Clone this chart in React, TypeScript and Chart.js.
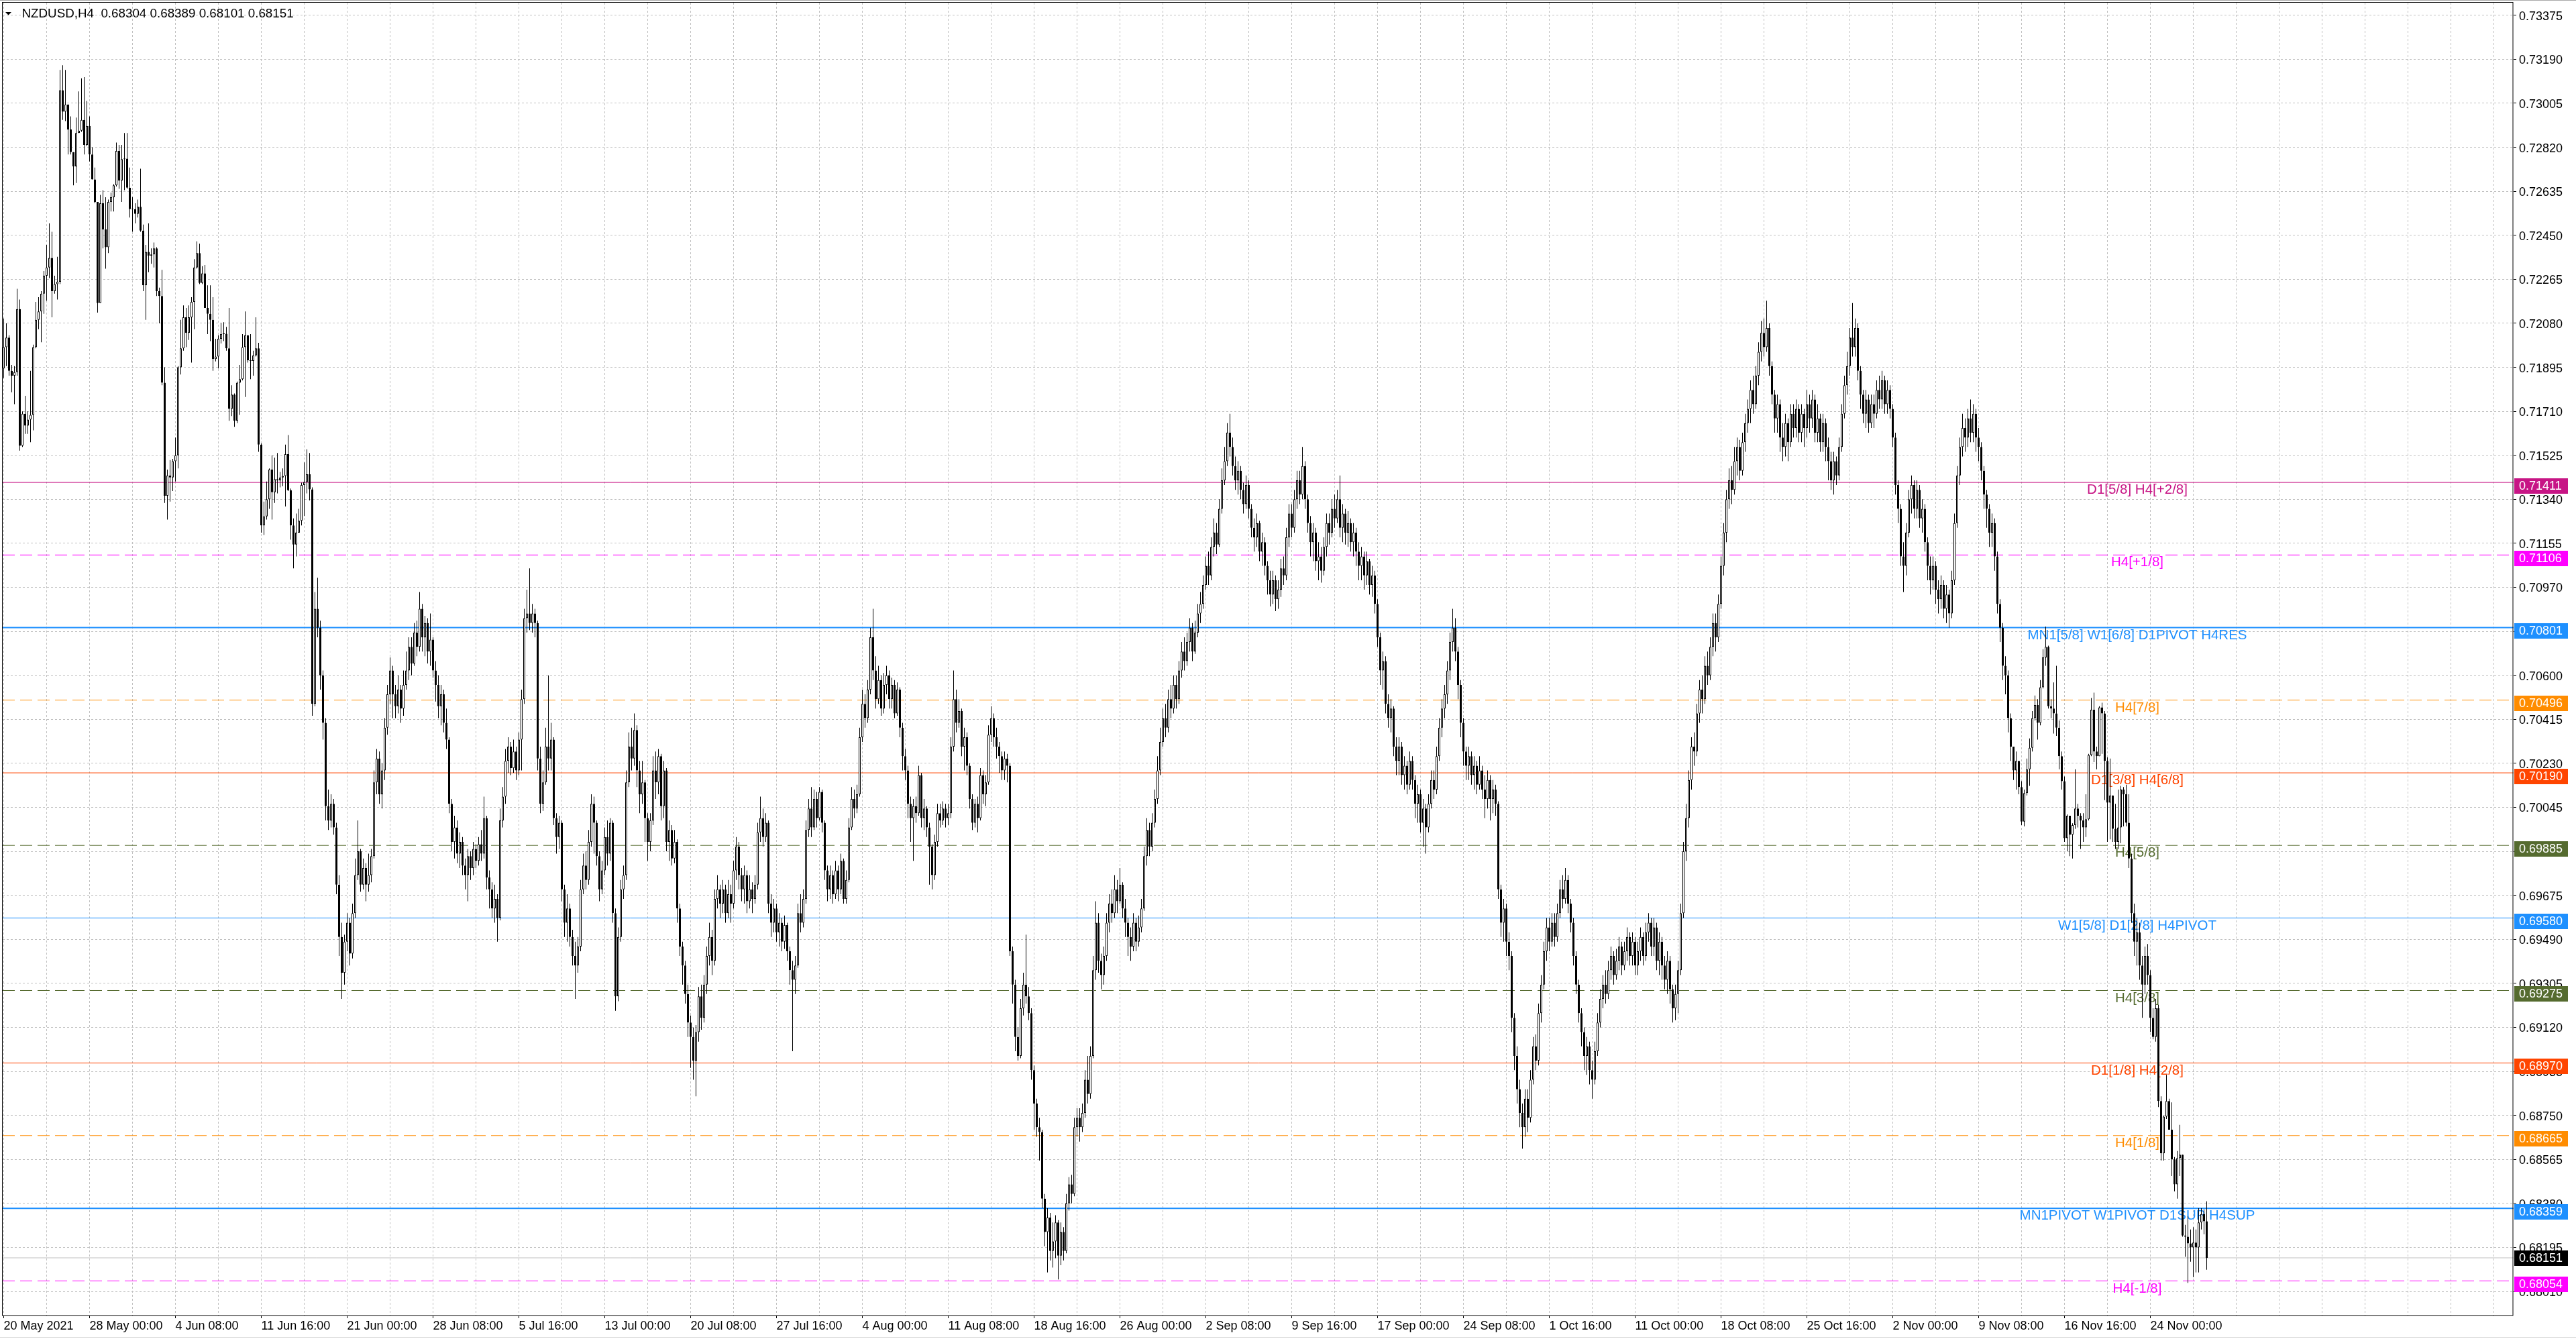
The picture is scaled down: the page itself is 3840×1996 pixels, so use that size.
import { useEffect, useRef } from 'react';
import { Chart, registerables } from 'chart.js';

Chart.register(...registerables);

// ---- DATA (prices as points above 0.68000, 1 point = 0.00001) ----
const BASE = 0.68;
const FIRST_OPEN = 3890;
const CLOSE = [
3980,4020,3880,3860,3875,4140,3565,3700,3650,3675,
3695,3980,4095,4130,4205,4280,4315,4355,4215,4245,
4255,5060,4970,5000,4895,4800,4740,4880,4890,4935,
4830,4910,4790,4685,4590,4165,4585,4475,4400,4590,
4610,4660,4805,4680,4770,4772,4650,4560,4560,4540,
4570,4470,4240,4380,4365,4370,4395,4215,4195,3830,
3355,3440,3432,3500,3525,3895,3975,4105,4040,4105,
4170,4315,4375,4250,4290,4145,4120,4095,3930,3940,
4015,4035,4036,3975,3720,3780,3670,3830,3845,3980,
4030,3925,3922,3945,3975,3570,3230,3268,3340,3465,
3370,3425,3420,3432,3438,3530,3378,3230,3150,3200,
3250,3400,3413,3445,3382,2480,2880,2800,2600,2400,
2050,1990,2060,1960,1720,1500,1350,1480,1560,1430,
1600,1760,1860,1720,1790,1720,1760,1840,2150,2250,
2100,2200,2380,2520,2620,2520,2470,2540,2460,2560,
2620,2720,2650,2780,2720,2880,2760,2820,2700,2750,
2620,2560,2470,2520,2400,2330,2060,1900,1960,1850,
1900,1800,1760,1840,1790,1870,1820,1890,1850,2000,
1750,1700,1620,1660,1580,1990,2090,2240,2300,2210,
2280,2200,2330,2500,2840,2860,2820,2860,2820,2250,
2060,2150,2300,2250,2330,2000,1920,1980,1700,1560,
1620,1500,1420,1380,1460,1700,1800,1740,1900,2060,
1980,1840,1700,1780,1920,1850,1980,1600,1250,1500,
1700,1760,2150,2300,2250,2370,2200,2100,2150,2000,
1900,1990,2200,2150,2260,2050,2200,1900,1950,1830,
1900,1620,1460,1380,1260,1140,1080,980,1100,1250,
1160,1300,1420,1500,1400,1660,1700,1640,1700,1600,
1680,1640,1780,1880,1760,1700,1760,1650,1700,1660,
1720,1940,2000,1920,1980,1640,1560,1620,1520,1560,
1480,1550,1440,1360,1320,1380,1600,1560,1660,1950,
2040,1960,2080,2000,2110,1980,1780,1700,1760,1680,
1780,1700,1820,1660,1740,1960,2080,2040,2100,2340,
2480,2420,2540,2760,2620,2500,2580,2460,2560,2600,
2500,2560,2440,2540,2380,2260,2200,2060,2000,2050,
2020,2180,2000,2040,1960,1880,1760,1900,2020,1990,
2040,2000,2020,2300,2500,2400,2450,2300,2340,2220,
2080,1980,2060,2000,2180,2100,2150,2350,2420,2340,
2300,2260,2200,2250,2220,1440,1300,1080,1000,1200,
1300,1250,1180,940,800,700,680,400,260,320,
180,220,300,160,260,180,380,460,420,700,
740,700,760,900,840,1000,1360,1560,1400,1340,
1420,1560,1640,1600,1700,1650,1720,1620,1560,1500,
1460,1560,1480,1540,1620,1840,1950,1880,1980,2080,
2200,2320,2420,2380,2500,2460,2560,2500,2620,2700,
2660,2740,2800,2700,2780,2860,2900,2980,3060,3020,
3140,3200,3150,3300,3420,3500,3620,3560,3480,3420,
3460,3380,3320,3400,3300,3220,3180,3240,3120,3160,
3060,3000,2940,3000,2920,2960,3050,3020,3180,3280,
3220,3340,3420,3360,3480,3340,3240,3160,3200,3080,
3100,3040,3140,3240,3200,3300,3260,3340,3220,3280,
3200,3240,3160,3200,3120,3060,3100,3020,3080,2980,
3020,2900,2760,2620,2660,2480,2420,2460,2300,2240,
2300,2180,2220,2140,2240,2160,2060,2100,1980,2040,
1960,2060,2160,2120,2260,2380,2460,2520,2620,2740,
2800,2700,2560,2400,2280,2220,2260,2180,2220,2140,
2200,2120,2080,2160,2080,2120,2060,1700,1560,1620,
1480,1420,1160,1000,860,760,700,820,740,900,
1040,980,1180,1300,1440,1540,1480,1560,1500,1600,
1700,1660,1740,1640,1560,1420,1300,1180,1100,1000,
1040,940,900,1020,1140,1240,1300,1260,1360,1420,
1340,1400,1460,1380,1440,1500,1420,1480,1380,1440,
1500,1420,1520,1560,1460,1540,1400,1480,1380,1320,
1400,1280,1200,1260,1360,1600,1860,2000,2160,2300,
2280,2440,2540,2500,2640,2600,2720,2820,2760,2900,
3060,3200,3340,3420,3380,3500,3560,3460,3580,3660,
3720,3800,3740,3860,3960,4040,3980,4060,3900,3780,
3680,3740,3600,3560,3660,3580,3700,3640,3720,3620,
3700,3640,3740,3680,3760,3620,3680,3580,3660,3560,
3500,3420,3500,3440,3560,3700,3820,3900,4020,3980,
4060,3880,3780,3700,3760,3660,3740,3700,3800,3760,
3840,3740,3800,3720,3600,3400,3300,3100,3060,3200,
3340,3400,3300,3380,3260,3300,3160,3060,3000,3060,
2960,2920,2980,2880,2940,2860,3000,3240,3440,3560,
3640,3600,3680,3620,3700,3600,3560,3460,3360,3300,
3200,3240,3100,2900,2800,2640,2600,2420,2300,2200,
2240,2130,1985,2105,2205,2295,2420,2475,2400,2550,
2675,2720,2470,2460,2440,2380,2260,2155,1915,2010,
1930,1970,2040,2010,1990,1960,1995,2265,2455,2280,
2260,2465,2440,2240,2065,2095,1955,1900,1960,2120,
2100,1980,1830,1600,1480,1520,1380,1300,1420,1340,
1160,1080,1200,810,590,745,810,690,565,460,
570,585,245,240,212,195,215,195,300,335,
305,151
];
const HIGH = [
4100,4080,4030,3905,3900,4225,4180,3710,3775,3710,
3880,3990,4170,4190,4215,4300,4410,4500,4465,4280,
4360,5145,5165,5145,5000,4950,4800,4945,5055,5110,
5115,5015,4950,4820,4735,4590,4620,4640,4610,4600,
4630,4665,4840,4830,4830,4880,4880,4735,4610,4585,
4600,4730,4495,4410,4500,4395,4420,4400,4230,4305,
3895,3465,3505,3510,3600,3900,4095,4155,4145,4155,
4190,4350,4425,4415,4320,4325,4240,4240,4190,4015,
4030,4080,4085,4065,4145,3820,3785,3835,3905,4035,
4130,4030,4035,3965,4105,3998,3575,3330,3415,3470,
3525,3515,3535,3455,3470,3570,3610,3385,3260,3280,
3300,3410,3495,3550,3535,3390,2950,3010,2830,2620,
2420,2120,2100,2080,1980,1760,1560,1510,1600,1580,
1640,1830,1990,1870,1830,1810,1850,1870,2200,2290,
2280,2230,2420,2560,2675,2640,2560,2600,2560,2620,
2700,2760,2760,2820,2830,2950,2900,2850,2840,2860,
2760,2660,2600,2560,2540,2460,2340,2080,2010,1990,
1940,1920,1830,1870,1860,1900,1890,1920,1950,2090,
2010,1780,1730,1720,1680,2040,2130,2290,2340,2320,
2330,2300,2360,2540,2880,2960,3050,2900,2880,2830,
2300,2200,2380,2600,2400,2340,2020,2010,1990,1720,
1680,1640,1530,1480,1500,1740,1850,1860,1950,2100,
2090,1990,1860,1820,1960,1990,2000,1990,1620,1540,
1740,1800,2200,2360,2380,2440,2390,2240,2240,2160,
2020,2020,2260,2280,2290,2270,2240,2210,1990,1970,
1950,1910,1640,1480,1400,1300,1170,1120,1130,1290,
1300,1340,1460,1560,1530,1700,1760,1720,1740,1720,
1740,1720,1820,1920,1900,1790,1800,1780,1760,1730,
1760,1980,2090,2040,2020,1990,1680,1660,1640,1600,
1580,1590,1560,1460,1400,1420,1640,1680,1700,1990,
2080,2130,2120,2110,2130,2120,1990,1800,1800,1780,
1820,1800,1850,1830,1780,2000,2130,2120,2140,2380,
2540,2520,2580,2800,2880,2680,2640,2600,2610,2640,
2620,2590,2580,2570,2550,2400,2290,2220,2090,2080,
2090,2220,2190,2080,2050,1980,1890,1930,2060,2060,
2070,2060,2060,2340,2620,2540,2500,2460,2380,2360,
2230,2100,2080,2090,2210,2200,2180,2390,2470,2440,
2380,2320,2280,2280,2270,2230,1460,1320,1120,1240,
1350,1510,1290,1200,960,820,740,690,420,360,
340,300,330,310,300,280,420,490,500,740,
780,780,800,940,1000,1040,1420,1650,1600,1430,
1460,1600,1680,1700,1760,1740,1790,1730,1660,1580,
1540,1600,1580,1590,1660,1880,2000,1980,2020,2120,
2260,2380,2460,2480,2540,2560,2600,2600,2660,2740,
2760,2780,2840,2820,2830,2900,2950,3020,3100,3120,
3180,3260,3240,3340,3470,3560,3660,3700,3600,3520,
3500,3480,3410,3440,3420,3320,3260,3280,3250,3200,
3180,3080,3040,3040,3020,3000,3090,3100,3220,3320,
3320,3380,3460,3460,3560,3500,3360,3270,3240,3220,
3160,3140,3180,3280,3280,3340,3360,3380,3440,3320,
3300,3290,3260,3240,3220,3160,3140,3120,3120,3090,
3060,3040,2920,2780,2700,2680,2520,2500,2470,2340,
2340,2320,2260,2240,2280,2260,2180,2140,2120,2080,
2060,2100,2200,2200,2300,2420,2500,2560,2660,2780,
2880,2840,2720,2580,2420,2300,2300,2280,2260,2240,
2260,2220,2180,2200,2180,2160,2140,2070,1720,1660,
1640,1520,1440,1180,1040,900,800,860,860,940,
1080,1090,1220,1340,1480,1580,1580,1600,1600,1640,
1740,1760,1790,1760,1660,1580,1440,1320,1200,1120,
1080,1060,980,1060,1180,1280,1340,1360,1400,1460,
1440,1450,1500,1480,1480,1540,1520,1520,1500,1480,
1540,1520,1560,1600,1580,1580,1560,1520,1500,1420,
1440,1420,1300,1300,1400,1640,1900,2060,2200,2340,
2360,2480,2580,2600,2680,2700,2760,2860,2860,2940,
3100,3240,3380,3470,3480,3560,3600,3590,3620,3700,
3760,3840,3860,3900,4000,4090,4100,4175,4080,3920,
3800,3780,3760,3660,3700,3680,3740,3740,3760,3740,
3740,3720,3800,3780,3800,3780,3740,3700,3700,3680,
3600,3540,3540,3520,3600,3740,3860,3960,4060,4165,
4100,4080,3900,3800,3800,3780,3780,3780,3840,3860,
3880,3860,3840,3820,3740,3620,3420,3320,3160,3240,
3380,3440,3420,3420,3400,3340,3320,3180,3100,3100,
3080,3000,3020,3000,2980,2960,3040,3280,3480,3600,
3700,3680,3720,3760,3740,3720,3640,3580,3480,3380,
3320,3280,3260,3120,2920,2820,2680,2620,2440,2300,
2280,2240,2155,2120,2250,2335,2450,2515,2500,2580,
2710,2805,2725,2500,2570,2640,2410,2280,2175,2015,
2010,1978,2205,2060,2020,2020,2100,2270,2505,2527,
2300,2470,2485,2450,2255,2250,2090,2060,2120,2135,
2130,2140,2100,1850,1640,1580,1560,1420,1460,1470,
1360,1200,1240,1215,830,750,920,820,805,575,
600,710,570,290,325,270,280,270,360,360,
355,389
];
const LOW = [
3850,3900,3860,3790,3740,3860,3545,3560,3615,3615,
3580,3630,3975,4055,4000,4120,4175,4270,4105,4205,
4180,4245,4935,4930,4790,4790,4660,4670,4880,4885,
4790,4825,4760,4685,4585,4125,4165,4395,4310,4375,
4550,4550,4655,4645,4590,4640,4645,4525,4465,4500,
4525,4465,4215,4095,4295,4330,4315,4195,4080,3820,
3325,3255,3330,3375,3415,3470,3865,3965,3980,4010,
3915,4055,4310,4245,4245,4145,4035,4005,3880,3920,
3890,3995,4005,3965,3670,3690,3645,3660,3695,3840,
3770,3915,3845,3860,3940,3540,3200,3190,3255,3300,
3255,3325,3365,3390,3395,3310,3375,3170,3050,3100,
3200,3230,3270,3365,3335,2430,2470,2760,2540,2330,
1990,1950,1960,1930,1680,1420,1240,1300,1440,1380,
1410,1580,1740,1690,1700,1650,1690,1730,1830,2100,
2060,2040,2160,2350,2480,2420,2420,2440,2400,2430,
2540,2580,2600,2640,2680,2700,2700,2680,2650,2640,
2590,2490,2420,2390,2360,2290,2020,1860,1830,1810,
1790,1760,1700,1650,1740,1760,1790,1800,1820,1830,
1700,1620,1580,1560,1480,1570,1960,2060,2190,2180,
2190,2160,2180,2200,2480,2780,2790,2780,2760,2200,
2020,2030,2140,2200,2200,1970,1850,1870,1650,1500,
1480,1460,1380,1240,1350,1440,1680,1700,1720,1880,
1850,1800,1650,1680,1760,1800,1820,1560,1190,1230,
1480,1660,1740,2130,2200,2220,2130,2020,2060,1900,
1820,1860,1970,2080,2100,1990,2000,1860,1820,1800,
1810,1560,1420,1300,1220,1080,950,900,830,1060,
1110,1140,1260,1380,1340,1380,1620,1580,1600,1560,
1580,1560,1620,1740,1700,1650,1640,1600,1620,1600,
1640,1700,1900,1880,1900,1600,1500,1520,1480,1460,
1440,1450,1400,1300,1020,1260,1370,1520,1540,1640,
1920,1920,1950,1960,1990,1940,1740,1650,1660,1640,
1660,1650,1680,1640,1640,1730,1950,2000,2020,2090,
2320,2380,2400,2520,2580,2460,2480,2430,2440,2520,
2460,2460,2420,2430,2340,2200,2160,2000,1900,1820,
1980,2010,1960,1950,1920,1720,1700,1740,1880,1960,
1970,1960,1970,2000,2280,2360,2380,2260,2200,2180,
2040,1950,1960,1940,1990,2060,2050,2140,2320,2300,
2250,2190,2160,2160,2150,1420,1220,1020,980,990,
1170,1220,1150,900,690,660,560,360,200,90,
140,110,150,60,120,140,170,350,380,410,
660,640,680,740,800,820,990,1320,1350,1280,
1300,1400,1520,1560,1580,1600,1640,1580,1500,1420,
1400,1440,1440,1460,1520,1610,1800,1840,1860,1960,
2060,2180,2300,2340,2360,2420,2440,2460,2480,2590,
2620,2640,2700,2660,2690,2760,2820,2880,2960,2980,
3000,3100,3110,3140,3280,3400,3480,3520,3440,3380,
3360,3340,3280,3300,3260,3180,3120,3140,3080,3060,
3020,2940,2890,2900,2870,2880,2930,2980,3000,3140,
3180,3200,3300,3320,3340,3300,3200,3100,3080,3040,
3000,2990,3020,3100,3150,3180,3220,3240,3180,3160,
3150,3140,3120,3100,3060,3000,3000,2960,2980,2940,
2930,2860,2720,2560,2540,2440,2380,2360,2260,2180,
2180,2140,2120,2100,2120,2120,2000,1980,1940,1880,
1850,1940,2040,2080,2100,2240,2340,2420,2480,2580,
2700,2660,2500,2340,2220,2160,2160,2140,2120,2100,
2120,2080,2000,2040,1990,2020,2010,1660,1500,1480,
1420,1360,1100,940,800,700,610,660,680,720,
880,940,960,1140,1280,1400,1440,1460,1460,1480,
1580,1620,1640,1600,1520,1380,1260,1140,1040,940,
920,880,820,880,1000,1120,1200,1220,1240,1320,
1300,1320,1360,1340,1360,1400,1380,1380,1340,1340,
1400,1380,1400,1480,1420,1420,1360,1340,1320,1280,
1260,1220,1140,1150,1180,1340,1580,1820,1960,2120,
2220,2260,2400,2440,2480,2560,2580,2680,2700,2740,
2880,3020,3160,3300,3320,3360,3440,3420,3440,3540,
3620,3660,3700,3720,3820,3920,3940,3960,3860,3740,
3620,3620,3540,3500,3520,3500,3560,3600,3600,3580,
3580,3560,3600,3620,3640,3580,3580,3540,3540,3500,
3420,3380,3360,3400,3420,3540,3680,3780,3860,3940,
3940,3840,3720,3660,3640,3620,3640,3640,3680,3720,
3720,3700,3700,3680,3560,3360,3240,3060,2950,3020,
3180,3280,3260,3260,3220,3200,3120,3000,2940,2960,
2900,2860,2880,2840,2820,2800,2840,2980,3220,3400,
3520,3540,3560,3580,3580,3540,3500,3420,3300,3220,
3140,3140,3040,2860,2740,2580,2520,2360,2240,2160,
2120,2100,1970,1965,2095,2135,2280,2410,2330,2390,
2545,2640,2460,2420,2355,2345,2205,2120,1900,1860,
1840,1830,1955,1960,1870,1900,1920,1990,2260,2235,
2205,2270,2270,2075,1900,1910,1900,1870,1870,1895,
1965,1965,1790,1560,1420,1380,1320,1160,1260,1300,
1100,1070,1060,785,560,560,735,690,495,430,
400,495,240,155,45,135,70,90,90,270,
250,101
];

// time axis labels, one every 32 bars starting at bar 0
const X_LABELS = [
  '20 May 2021', '28 May 00:00', '4 Jun 08:00', '11 Jun 16:00', '21 Jun 00:00', '28 Jun 08:00',
  '5 Jul 16:00', '13 Jul 00:00', '20 Jul 08:00', '27 Jul 16:00', '4 Aug 00:00', '11 Aug 08:00',
  '18 Aug 16:00', '26 Aug 00:00', '2 Sep 08:00', '9 Sep 16:00', '17 Sep 00:00', '24 Sep 08:00',
  '1 Oct 16:00', '11 Oct 00:00', '18 Oct 08:00', '25 Oct 16:00', '2 Nov 00:00', '9 Nov 08:00',
  '16 Nov 16:00', '24 Nov 00:00'
];
const Y_TICKS = [
  0.68010, 0.68195, 0.68380, 0.68565, 0.68750, 0.68935, 0.69120, 0.69305, 0.69490, 0.69675,
  0.69860, 0.70045, 0.70230, 0.70415, 0.70600, 0.70785, 0.70970, 0.71155, 0.71340, 0.71525,
  0.71710, 0.71895, 0.72080, 0.72265, 0.72450, 0.72635, 0.72820, 0.73005, 0.73190, 0.73375
];
const LEVELS = [0.71411, 0.71106, 0.70801, 0.70496, 0.70190, 0.69885, 0.69580, 0.69275, 0.68970, 0.68665, 0.68359, 0.68054];
const LEVEL_NAMES = [
  'D1[5/8] H4[+2/8]', 'H4[+1/8]', 'MN1[5/8] W1[6/8] D1PIVOT H4RES', 'H4[7/8]', 'D1[3/8] H4[6/8]', 'H4[5/8]',
  'W1[5/8] D1[2/8] H4PIVOT', 'H4[3/8]', 'D1[1/8] H4[2/8]', 'H4[1/8]', 'MN1PIVOT W1PIVOT D1SUP H4SUP', 'H4[-1/8]'
];
const LEVEL_COLORS = ['#C71585', '#FF00FF', '#1E90FF', '#FF8C00', '#FF4500', '#556B2F', '#1E90FF', '#556B2F', '#FF4500', '#FF8C00', '#1E90FF', '#FF00FF'];
const LEVEL_DASHED = [false, true, false, true, false, true, false, true, false, true, false, true];
const LEVEL_WIDTHS = [1, 1, 2, 1, 1, 1, 1, 1, 1, 1, 2, 1];
const LAST_PRICE = 0.68151;
const HEADER = 'NZDUSD,H4  0.68304 0.68389 0.68101 0.68151';

// ---- LAYOUT ----
const W = 3840;
const H = 1996;
const X_MIN = -0.375;
const X_MAX = 935.375;
const Y_MIN = 0.679057;
const Y_MAX = 0.73428;
const LABEL_BAR = 795.125;
const FONT = 'Liberation Sans';

const px = (v: number) => +(BASE + v / 100000).toFixed(5);

function buildConfig(): any {
  const opens = CLOSE.map((_, i) => (i === 0 ? FIRST_OPEN : CLOSE[i - 1]));
  const bodyData = CLOSE.map((c, i) => ({ x: i, y: [px(opens[i]), px(c)] }));
  const bodyFill = CLOSE.map((c, i) => (c >= opens[i] ? '#ffffff' : '#000000'));
  const wickData = CLOSE.map((c, i) => ({
    x: i,
    y: [px(Math.min(LOW[i], opens[i], c)), px(Math.max(HIGH[i], opens[i], c))],
  }));

  const levelSets = LEVELS.map((lv, i) => ({
    type: 'line',
    data: [{ x: X_MIN, y: lv }, { x: X_MAX, y: lv }],
    borderColor: LEVEL_COLORS[i],
    borderWidth: LEVEL_WIDTHS[i],
    borderDash: LEVEL_DASHED[i] ? [18, 8] : [],
    pointRadius: 0,
    fill: false,
    order: 3,
  }));

  const priceLine = {
    type: 'line',
    data: [{ x: X_MIN, y: LAST_PRICE }, { x: X_MAX, y: LAST_PRICE }],
    borderColor: '#c0c0c0',
    borderWidth: 1,
    pointRadius: 0,
    fill: false,
    order: 2,
  };

  const decor = {
    id: 'mt4decor',
    beforeDatasetsDraw(chart: any) {
      const { ctx, chartArea } = chart;
      const xs = chart.scales.x;
      const ys = chart.scales.y;
      ctx.save();
      ctx.beginPath();
      ctx.rect(chartArea.left, chartArea.top, chartArea.right - chartArea.left, chartArea.bottom - chartArea.top);
      ctx.clip();
      ctx.font = `20.5px "${FONT}"`;
      ctx.textAlign = 'center';
      ctx.textBaseline = 'middle';
      const lx = xs.getPixelForValue(LABEL_BAR);
      LEVELS.forEach((lv, i) => {
        ctx.fillStyle = LEVEL_COLORS[i];
        ctx.fillText(LEVEL_NAMES[i], lx, ys.getPixelForValue(lv) + 11.5);
      });
      ctx.restore();
    },
    afterDraw(chart: any) {
      const { ctx, chartArea } = chart;
      const ys = chart.scales.y;
      ctx.save();
      // window frame
      ctx.fillStyle = '#a9a9a9';
      ctx.fillRect(0, 0, W, 1);
      ctx.fillStyle = '#d8d8d8';
      ctx.fillRect(0, 1993, W, 1);
      // chart frame
      ctx.strokeStyle = '#000';
      ctx.lineWidth = 1;
      ctx.strokeRect(3.5, 3.5, chartArea.right - 1 - 3.5, chartArea.bottom - 1 - 3.5);
      // header
      ctx.fillStyle = '#000';
      ctx.beginPath();
      ctx.moveTo(8, 18);
      ctx.lineTo(17, 18);
      ctx.lineTo(12.5, 22.5);
      ctx.closePath();
      ctx.fill();
      ctx.font = `18.8px "${FONT}"`;
      ctx.textAlign = 'left';
      ctx.textBaseline = 'middle';
      ctx.fillText(HEADER, 32.5, 20.5);
      // price boxes on the axis
      ctx.font = `18px "${FONT}"`;
      const box = (price: number, color: string, top: number) => {
        ctx.fillStyle = color;
        ctx.fillRect(3748, top, 80, 23);
        ctx.fillStyle = '#fff';
        ctx.fillText(price.toFixed(5), 3755, top + 12);
      };
      LEVELS.forEach((lv, i) => {
        const y = ys.getPixelForValue(lv);
        box(lv, LEVEL_COLORS[i], Math.round(y - 6.5));
      });
      const yp = ys.getPixelForValue(LAST_PRICE);
      box(LAST_PRICE, '#000', Math.round(yp - 11.5));
      ctx.restore();
    },
  };

  return {
    type: 'bar',
    data: {
      datasets: [
        {
          type: 'bar',
          data: bodyData,
          backgroundColor: bodyFill,
          borderColor: '#000',
          borderWidth: 1,
          borderSkipped: false,
          barThickness: 3,
          maxBarThickness: 3,
          grouped: false,
          minBarLength: 1,
          inflateAmount: 0,
          order: 0,
        },
        {
          type: 'bar',
          data: wickData,
          backgroundColor: '#000',
          borderWidth: 0,
          barThickness: 1,
          maxBarThickness: 1,
          grouped: false,
          minBarLength: 1,
          inflateAmount: 0,
          order: 1,
        },
        priceLine,
        ...levelSets,
      ],
    },
    options: {
      responsive: false,
      animation: false,
      devicePixelRatio: 1,
      events: [],
      layout: { padding: { left: 4, top: 4, right: 0, bottom: 0 } },
      plugins: { legend: { display: false }, tooltip: { enabled: false }, title: { display: false } },
      scales: {
        x: {
          type: 'linear',
          position: 'bottom',
          min: X_MIN,
          max: X_MAX,
          offset: false,
          afterBuildTicks: (s: any) => {
            const t = [];
            for (let k = 0; k <= 928; k += 16) t.push({ value: k });
            s.ticks = t;
          },
          afterFit: (s: any) => {
            s.height = 34;
            s.paddingLeft = 0;
            s.paddingRight = 0;
          },
          ticks: {
            autoSkip: false,
            maxRotation: 0,
            minRotation: 0,
            align: 'start',
            padding: 1,
            color: '#000',
            font: { family: FONT, size: 18 },
            callback: (v: number) => (v % 32 === 0 && v / 32 < X_LABELS.length ? X_LABELS[v / 32] : ''),
          },
          grid: {
            offset: false,
            color: '#c0c0c0',
            lineWidth: 1,
            drawTicks: true,
            tickLength: 3,
            tickColor: (c: any) =>
              c.tick && c.tick.value % 32 === 0 && c.tick.value <= 800 ? '#000' : 'rgba(0,0,0,0)',
          },
          border: { display: false, dash: [3, 3] },
        },
        y: {
          type: 'linear',
          position: 'right',
          min: Y_MIN,
          max: Y_MAX,
          afterBuildTicks: (s: any) => {
            s.ticks = Y_TICKS.map((v) => ({ value: v }));
          },
          afterFit: (s: any) => {
            s.width = 93;
            s.paddingTop = 0;
            s.paddingBottom = 0;
          },
          ticks: {
            autoSkip: false,
            padding: 4,
            labelOffset: 2,
            color: '#000',
            font: { family: FONT, size: 18 },
            callback: (v: number) => Number(v).toFixed(5),
          },
          grid: {
            color: '#c0c0c0',
            lineWidth: 1,
            drawTicks: true,
            tickLength: 4,
            tickColor: '#000',
          },
          border: { display: false, dash: [3, 3] },
        },
      },
    },
    plugins: [decor],
  };
}

export default function App() {
  const ref = useRef<HTMLCanvasElement>(null);
  useEffect(() => {
    Chart.defaults.font.family = FONT;
    const chart = new Chart(ref.current as HTMLCanvasElement, buildConfig());
    return () => chart.destroy();
  }, []);
  return (
    <div style={{ position: 'fixed', left: 0, top: 0, width: W, height: H, background: '#fff' }}>
      <canvas ref={ref} width={W} height={H} style={{ width: W, height: H, display: 'block' }} />
    </div>
  );
}
